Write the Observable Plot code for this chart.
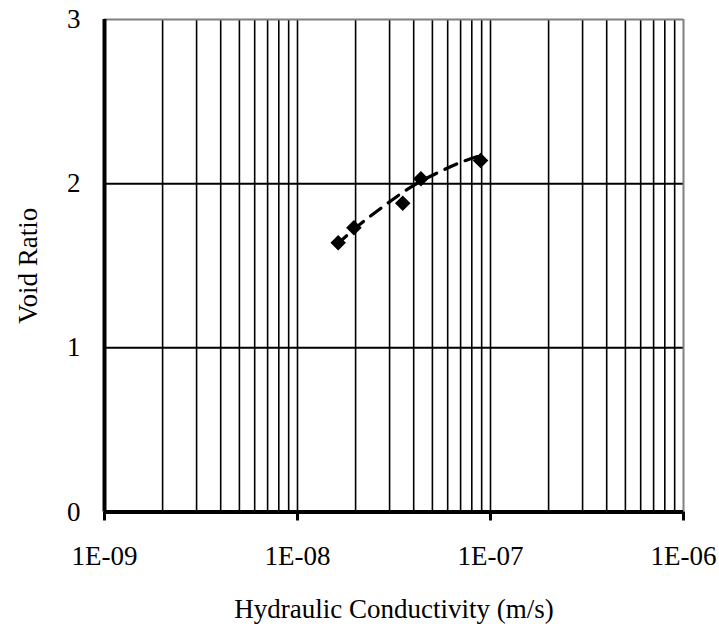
<!DOCTYPE html>
<html>
<head>
<meta charset="utf-8">
<script src="https://cdn.jsdelivr.net/npm/d3@7"></script>
<script src="https://cdn.jsdelivr.net/npm/@observablehq/plot@0.6"></script>
<style>
  html, body { margin: 0; padding: 0; background: #fff; }
  #chart svg { display: block; }
</style>
</head>
<body>
<div id="chart"></div>
<script>
// Measured data
const conductivity = [1.625e-8, 1.96e-8, 3.51e-8, 4.36e-8, 8.88e-8];
const voidRatio = [1.640, 1.731, 1.881, 2.030, 2.141];

// Dashed trend curve
const trendK = [1.6e-8, 2.0e-8, 2.85e-8, 4.0e-8, 5.4e-8, 7.0e-8, 8.8e-8];
const trendE = [1.63, 1.73, 1.87, 1.99, 2.07, 2.13, 2.17];

// Axis ticks
const xMajorTicks = [1e-9, 1e-8, 1e-7, 1e-6];
const yTicks = [0, 1, 2, 3];

const points = conductivity.map((k, i) => ({k, e: voidRatio[i]}));
const trend = trendK.map((k, i) => ({k, e: trendE[i]}));

const xGrid = [];
for (const d of xMajorTicks.slice(0, -1)) {
  for (let m = 1; m <= 9; m++) xGrid.push(m * d);
}
xGrid.push(1e-6);

function fmtE(d) {
  const exp = Math.round(Math.log10(d));
  const sign = exp < 0 ? "-" : "+";
  return "1E" + sign + String(Math.abs(exp)).padStart(2, "0");
}

const font = "'Liberation Serif', 'Times New Roman', serif";

const chart = Plot.plot({
  width: 719,
  height: 624,
  marginLeft: 104,
  marginRight: 36,
  marginTop: 19,
  marginBottom: 112.5,
  style: {fontFamily: font, fontSize: "27px", color: "#000", background: "#fff"},
  x: {type: "log", domain: [1e-9, 1e-6]},
  y: {domain: [0, 3]},
  marks: [
    Plot.ruleX(xGrid.filter(v => v > 1e-9 && v < 1e-6), {stroke: "#000", strokeWidth: 1.6}),
    Plot.ruleY([1, 2], {stroke: "#000", strokeWidth: 2}),
    Plot.ruleY([3], {stroke: "#808080", strokeWidth: 2}),
    Plot.ruleX([1e-6], {stroke: "#808080", strokeWidth: 2}),
    Plot.ruleX([1e-9], {stroke: "#000", strokeWidth: 4}),
    Plot.ruleY([0], {stroke: "#000", strokeWidth: 4}),
    Plot.axisX({
      ticks: xMajorTicks, tickFormat: fmtE, tickSize: 9, tickPadding: 25,
      strokeWidth: 3, fontSize: 27, fontFamily: font, label: null
    }),
    Plot.axisY({
      ticks: yTicks, tickFormat: d => String(d), tickSize: 0, tickPadding: 24,
      fontSize: 27, fontFamily: font, label: null
    }),
    Plot.line(trend, {x: "k", y: "e", stroke: "#000", strokeWidth: 3.2, strokeDasharray: "13,9", curve: "monotone-x"}),
    Plot.dot(points, {x: "k", y: "e", symbol: "diamond2", r: 7, fill: "#000", stroke: "none"}),
    Plot.text(["Hydraulic Conductivity (m/s)"], {
      frameAnchor: "bottom", dy: 97, text: d => d, fontSize: 27, fontFamily: font, fill: "#000", lineAnchor: "middle"
    }),
    Plot.text(["Void Ratio"], {
      frameAnchor: "left", dx: -76, rotate: -90, text: d => d, fontSize: 27, fontFamily: font, fill: "#000", lineAnchor: "middle", textAnchor: "middle"
    })
  ]
});
document.getElementById("chart").append(chart);
</script>
</body>
</html>
